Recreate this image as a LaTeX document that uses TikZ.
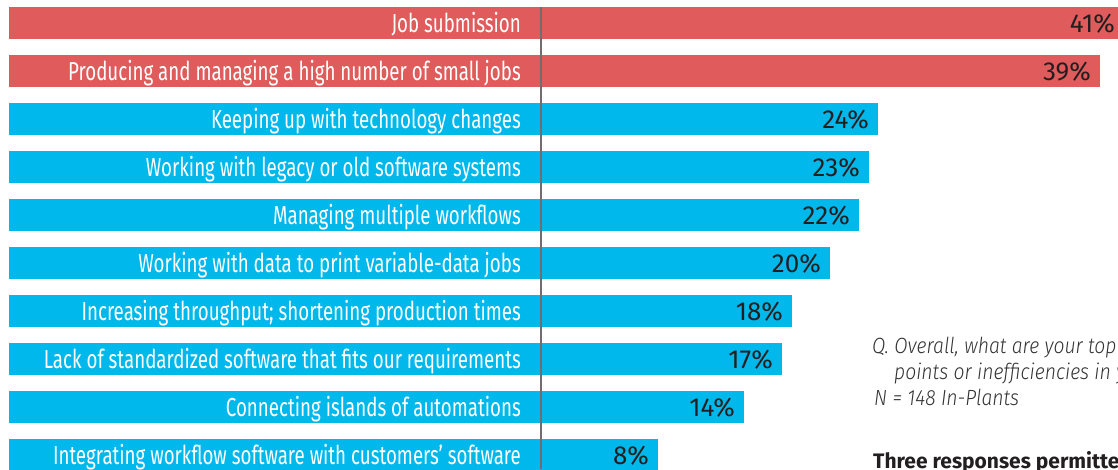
\documentclass[tikz,border=0pt]{standalone}
\usepackage{fontspec}
\newfontfamily\lblfont[FakeStretch=0.72]{Fira Sans}
\newfontfamily\numfont{Fira Sans}
\IfFontExistsTF{Fira Sans Light}{\newfontfamily\qfont[FakeStretch=0.88]{Fira Sans Light}}{\newfontfamily\qfont[FakeStretch=0.88]{Fira Sans}}
\newfontfamily\bfont{Fira Sans}
\definecolor{barred}{HTML}{E05B5B}
\definecolor{barblue}{HTML}{00B8EB}
\definecolor{numtxt}{HTML}{231F20}
\definecolor{axisgray}{HTML}{6E6E6E}
\definecolor{qgray}{HTML}{333333}
\tikzset{
  redbar/.style={fill=barred,draw=none},
  bluebar/.style={fill=barblue,draw=none},
  lbl/.style={anchor=base east,inner sep=0pt,text=white,font=\lblfont\fontsize{26}{26}\selectfont},
  pct/.style={anchor=base east,inner sep=0pt,text=numtxt,font=\numfont\fontsize{26}{26}\selectfont},
  qtxt/.style={anchor=base west,inner sep=0pt,text=qgray,font=\qfont\itshape\fontsize{22}{22}\selectfont},
}
\begin{document}
\begin{tikzpicture}[x=1pt,y=-1pt]
\useasboundingbox (0,0) rectangle (1118,469);
\clip (0,0) rectangle (1118,469);
\fill[white] (0,0) rectangle (1118,469);
% bars: top = 7 + 48*(i-1), height 32
\foreach \i/\e/\st/\lab/\p in {
 0/1124/redbar/Job submission/41\%,
 1/1100/redbar/Producing and managing a high number of small jobs/39\%,
 2/878/bluebar/Keeping up with technology changes/24\%,
 3/869/bluebar/Working with legacy or old software systems/23\%,
 4/859/bluebar/Managing multiple workflows/22\%,
 5/830/bluebar/Working with data to print variable-data jobs/20\%,
 6/792/bluebar/{Increasing throughput; shortening production times}/18\%,
 7/782/bluebar/Lack of standardized software that fits our requirements/17\%,
 8/744/bluebar/Connecting islands of automations/14\%,
 9/658/bluebar/Integrating workflow software with customers’ software/8\%}{
  \path[\st] (9,{7+48*\i}) rectangle (\e,{39+48*\i});
  \node[lbl] (l\i) at (521,{32+48*\i}) {\lab};
  \node[pct] (p\i) at ({\e-9},{32+48*\i}) {\p};
}
\draw[axisgray,line width=2pt] (541,7) -- (541,469);
\node[qtxt] (q1) at (872,353) {Q. Overall, what are your top};
\node[qtxt] (q2) at (894,379) {points or inefficiencies in your};
\node[qtxt] (q3) at (874,405) {N = 148 In-Plants};
\node[anchor=base west,inner sep=0pt,text=numtxt,font=\bfont\bfseries\fontsize{21}{21}\selectfont] (t) at (873,468) {Three responses permitted};
\end{tikzpicture}
\end{document}
